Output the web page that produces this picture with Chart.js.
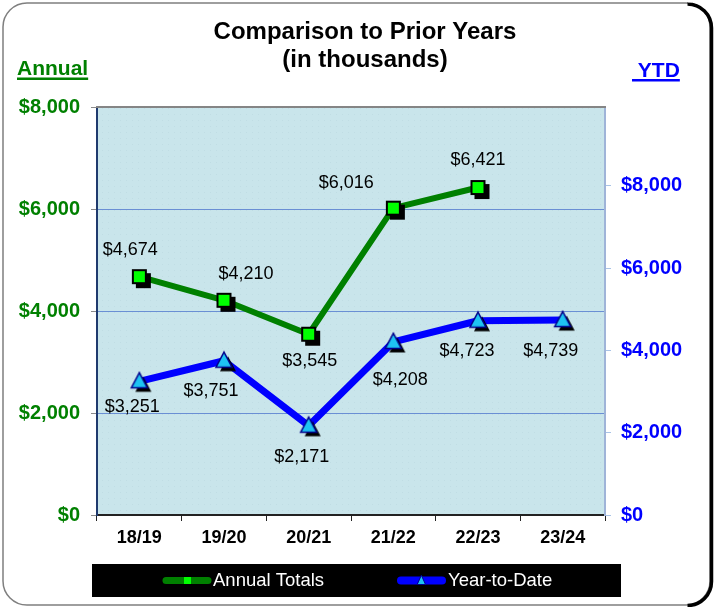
<!DOCTYPE html>
<html>
<head>
<meta charset="utf-8">
<script src="https://cdn.jsdelivr.net/npm/chart.js@4.4.1/dist/chart.umd.min.js"></script>
<style>
  html, body { margin: 0; padding: 0; background: #ffffff; }
  #wrap { width: 717px; height: 607px; position: relative; }
</style>
</head>
<body>
<div id="wrap"><canvas id="c" width="717" height="607"></canvas></div>
<script>
// ---- data ----
const categories = ['18/19', '19/20', '20/21', '21/22', '22/23', '23/24'];
const annualTotals = [4674, 4210, 3545, 6016, 6421, null];
const yearToDate = [3251, 3751, 2171, 4208, 4723, 4739];
const leftTicks = [0, 2000, 4000, 6000, 8000];
const rightTicks = [0, 2000, 4000, 6000, 8000];

// label placement offsets (style, not data)
const annualLabelOffsets = [[-9, -27], [22, -26], [1, 27], [-47, -25], [0, -27], [0, 0]];
const ytdLabelOffsets = [[-7, 26], [-13, 30], [-7, 31], [7, 38], [-11, 30], [-12, 31]];

const fmt = v => '$' + Number(v).toLocaleString('en-US');
const FONT = 'Arial, "Liberation Sans", sans-serif';

// ---- marker images ----
function squareMarker(size, fill, stroke, lw, shadow) {
  const half = size / 2 + shadow + 1;
  const c = document.createElement('canvas');
  c.width = Math.ceil(half * 2); c.height = Math.ceil(half * 2);
  const g = c.getContext('2d');
  const cx = c.width / 2, cy = c.height / 2;
  if (shadow) { g.fillStyle = '#000'; g.fillRect(cx - size / 2 + shadow, cy - size / 2 + shadow, size, size); }
  g.fillStyle = fill; g.fillRect(cx - size / 2, cy - size / 2, size, size);
  if (lw) { g.lineWidth = lw; g.strokeStyle = stroke; g.strokeRect(cx - size / 2 + lw / 2, cy - size / 2 + lw / 2, size - lw, size - lw); }
  return c;
}
function triMarker(w, h, fill, stroke, lw, shadow) {
  const half = Math.max(w, h) / 2 + shadow + 2;
  const c = document.createElement('canvas');
  c.width = Math.ceil(half * 2); c.height = Math.ceil(half * 2);
  const g = c.getContext('2d');
  const cx = c.width / 2, cy = c.height / 2;
  const path = (ox, oy) => { g.beginPath(); g.moveTo(cx + ox, cy - h * 0.57 + oy); g.lineTo(cx + w / 2 + ox, cy + h * 0.43 + oy); g.lineTo(cx - w / 2 + ox, cy + h * 0.43 + oy); g.closePath(); };
  if (shadow) { path(shadow, shadow); g.fillStyle = '#000'; g.fill(); }
  path(0, 0); g.fillStyle = fill; g.fill();
  if (lw) { g.lineWidth = lw; g.strokeStyle = stroke; g.lineJoin = 'miter'; g.stroke(); }
  return c;
}
const sqImg = squareMarker(15, '#00ff00', '#000000', 2, 4);
const triImg = triMarker(16, 15, '#1ec3f2', '#00008b', 1.5, 4);

// ---- plot background pattern ----
function makePattern(ctx) {
  const p = document.createElement('canvas'); p.width = 6; p.height = 6;
  const g = p.getContext('2d');
  g.fillStyle = '#c9e5eb'; g.fillRect(0, 0, 6, 6);
  g.fillStyle = '#c0dde4'; g.fillRect(0, 0, 1, 1);
  return ctx.createPattern(p, 'repeat');
}

const decor = {
  id: 'decor',
  beforeDraw(chart) {
    const ctx = chart.ctx;
    const a = chart.chartArea;
    ctx.save();
    ctx.fillStyle = '#ffffff';
    ctx.fillRect(0, 0, chart.width, chart.height);
    // panel
    const L = 3, T = 3, R = 710, B = 605, r = 24;
    ctx.beginPath();
    ctx.moveTo(L + r, T); ctx.lineTo(R - r, T); ctx.arcTo(R, T, R, T + r, r);
    ctx.lineTo(R, B - r); ctx.arcTo(R, B, R - r, B, r); ctx.lineTo(L + r, B);
    ctx.arcTo(L, B, L, B - r, r); ctx.lineTo(L, T + r); ctx.arcTo(L, T, L + r, T, r); ctx.closePath();
    ctx.lineWidth = 1.5; ctx.strokeStyle = '#7f7f7f'; ctx.stroke();
    // black shadow on the right side
    ctx.beginPath();
    ctx.moveTo(R - r + 2, T + 1); ctx.arcTo(R + 1.5, T + 1, R + 1.5, T + r, r);
    ctx.lineTo(R + 1.5, B - r); ctx.arcTo(R + 1.5, B + 0.5, R - r, B + 0.5, r);
    ctx.lineWidth = 3.5; ctx.strokeStyle = '#000'; ctx.stroke();
    // plot area
    ctx.fillStyle = makePattern(ctx);
    ctx.fillRect(a.left, a.top, a.right - a.left, a.bottom - a.top);
    ctx.restore();
  },
  afterDraw(chart) {
    const ctx = chart.ctx;
    const a = chart.chartArea;
    ctx.save();
    // top border of plot
    ctx.strokeStyle = '#858585'; ctx.lineWidth = 2;
    ctx.beginPath(); ctx.moveTo(a.left - 1, a.top); ctx.lineTo(a.right + 1, a.top); ctx.stroke();
    // title
    ctx.fillStyle = '#000'; ctx.textAlign = 'center'; ctx.textBaseline = 'middle';
    ctx.font = 'bold 24px ' + FONT;
    ctx.fillText('Comparison to Prior Years', 365, 32);
    ctx.fillText('(in thousands)', 365, 60);
    // axis captions
    ctx.font = 'bold 21px ' + FONT; ctx.textAlign = 'left'; ctx.textBaseline = 'alphabetic';
    ctx.fillStyle = '#008000';
    ctx.fillText('Annual', 17, 75);
    let w = ctx.measureText('Annual').width;
    ctx.fillRect(17, 77.5, w, 2.5);
    ctx.fillStyle = '#0000ff';
    ctx.fillText(' YTD', 632, 77);
    w = ctx.measureText(' YTD').width;
    ctx.fillRect(632, 79, w, 2.5);
    // legend
    ctx.fillStyle = '#000'; ctx.fillRect(92, 564, 529, 33);
    const ly = 580.5;
    ctx.lineCap = 'round';
    ctx.strokeStyle = '#008000'; ctx.lineWidth = 7;
    ctx.beginPath(); ctx.moveTo(166, ly); ctx.lineTo(208, ly); ctx.stroke();
    ctx.fillStyle = '#00ff00'; ctx.fillRect(184, ly - 3.5, 7, 7);
    ctx.strokeStyle = '#0000ff'; ctx.lineWidth = 8;
    ctx.beginPath(); ctx.moveTo(401, ly); ctx.lineTo(442, ly); ctx.stroke();
    ctx.beginPath(); ctx.moveTo(421.5, ly - 5); ctx.lineTo(425.5, ly + 4); ctx.lineTo(417.5, ly + 4); ctx.closePath();
    ctx.fillStyle = '#1ec3f2'; ctx.fill(); ctx.lineWidth = 1; ctx.strokeStyle = '#00008b'; ctx.stroke();
    ctx.fillStyle = '#ffffff'; ctx.font = '18.5px ' + FONT; ctx.textBaseline = 'middle';
    ctx.fillText(chart.data.datasets[0].label, 213, ly);
    ctx.fillText(chart.data.datasets[1].label, 448, ly);
    ctx.restore();
  },
  afterDatasetsDraw(chart) {
    const ctx = chart.ctx;
    ctx.save();
    ctx.font = '18px ' + FONT; ctx.fillStyle = '#000';
    ctx.textAlign = 'center'; ctx.textBaseline = 'middle';
    const offs = [annualLabelOffsets, ytdLabelOffsets];
    chart.data.datasets.forEach((ds, i) => {
      const meta = chart.getDatasetMeta(i);
      meta.data.forEach((pt, j) => {
        const v = ds.data[j];
        if (v == null) return;
        const o = offs[i][j];
        ctx.fillText(fmt(v), pt.x + o[0], pt.y + o[1]);
      });
    });
    ctx.restore();
  }
};

new Chart(document.getElementById('c'), {
  type: 'line',
  data: {
    labels: categories,
    datasets: [
      {
        label: 'Annual Totals', data: annualTotals, yAxisID: 'y',
        borderColor: '#008000', borderWidth: 6, pointStyle: sqImg,
        pointRadius: 8, pointHoverRadius: 8, tension: 0, spanGaps: false,
        borderJoinStyle: 'round', order: 2
      },
      {
        label: 'Year-to-Date', data: yearToDate, yAxisID: 'y1',
        borderColor: '#0000ff', borderWidth: 7, pointStyle: triImg,
        pointRadius: 8, pointHoverRadius: 8, tension: 0,
        borderJoinStyle: 'round', order: 1
      }
    ]
  },
  plugins: [decor],
  options: {
    responsive: false,
    devicePixelRatio: 1,
    animation: false,
    events: [],
    layout: { padding: { top: 107, left: 0, right: 0, bottom: 10 } },
    plugins: { legend: { display: false }, title: { display: false }, tooltip: { enabled: false } },
    scales: {
      x: {
        type: 'category', offset: true,
        afterFit: s => { s.height = 82; },
        grid: { display: true, drawOnChartArea: false, offset: true, tickLength: 6, tickColor: '#222', tickWidth: 1 },
        border: { display: true, color: '#222', width: 2 },
        ticks: { color: '#000', font: { family: FONT, size: 18, weight: 'bold' }, padding: 6, maxRotation: 0 }
      },
      y: {
        position: 'left', min: 0, max: 8000,
        afterFit: s => { s.width = 97; },
        afterBuildTicks: s => { s.ticks = leftTicks.map(v => ({ value: v })); },
        grid: {
          color: c => (c.tick && (c.tick.value === 0 || c.tick.value === 8000)) ? 'rgba(0,0,0,0)' : '#6a8fd4',
          lineWidth: 1, tickLength: 6, tickColor: '#8a8a8a', tickWidth: 1
        },
        border: { display: true, color: '#1f3a6e', width: 2 },
        ticks: { color: '#008000', font: { family: FONT, size: 20, weight: 'bold' }, padding: 11, callback: v => fmt(v) }
      },
      y1: {
        position: 'right', min: 0, max: 9920,
        afterFit: s => { s.width = 112; },
        afterBuildTicks: s => { s.ticks = rightTicks.map(v => ({ value: v })); },
        grid: { drawOnChartArea: false, tickLength: 6, tickColor: '#a9c3e6', tickWidth: 1 },
        border: { display: true, color: '#9fb4d8', width: 2 },
        ticks: { color: '#0000ff', font: { family: FONT, size: 20, weight: 'bold' }, padding: 10, callback: v => fmt(v) }
      }
    }
  }
});
</script>
</body>
</html>
